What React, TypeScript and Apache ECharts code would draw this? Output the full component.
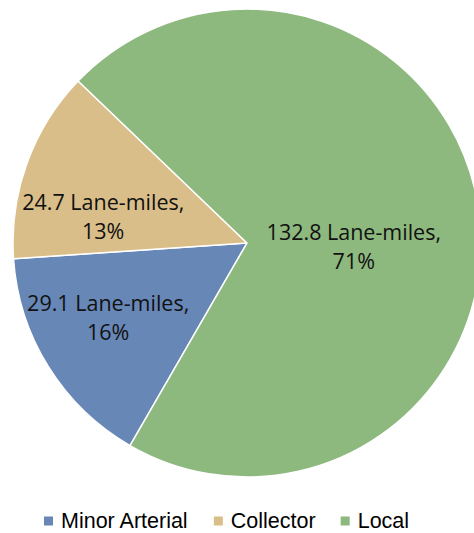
import React, { useEffect, useRef } from "react";
import * as echarts from "echarts";

const categories = ["Minor Arterial", "Collector", "Local"];
const laneMiles = [29.1, 24.7, 132.8];
const colors = ["#6787B7", "#D9BE89", "#8DB87E"];
const labelOffsets = [
  [-37, 11],
  [-31, 14],
  [-12, 20],
];

export default function App() {
  const ref = useRef<HTMLDivElement>(null);
  useEffect(() => {
    document.body.style.margin = "0";
    const chart = echarts.init(ref.current!, null, { renderer: "svg" });
    chart.setOption({
      animation: false,
      backgroundColor: "#ffffff",
      legend: {
        data: categories,
        left: 42,
        top: 510,
        padding: 0,
        icon: "rect",
        itemWidth: 11,
        itemHeight: 11,
        itemGap: 23,
        selectedMode: false,
        textStyle: {
          fontFamily: "'Liberation Sans', Arial, sans-serif",
          fontSize: 21.5,
          lineHeight: 20,
          color: "#000000",
          padding: [0, 0, 0, 2],
        },
      },
      series: [
        {
          type: "pie",
          center: [247, 243],
          radius: 234,
          startAngle: 240,
          clockwise: true,
          avoidLabelOverlap: false,
          emphasis: { disabled: true },
          labelLine: { show: false },
          itemStyle: { borderColor: "#ffffff", borderWidth: 1.5 },
          label: {
            show: true,
            position: "inside",
            fontFamily: "'Open Sans', 'Noto Sans', sans-serif",
            fontSize: 21.5,
            lineHeight: 29,
            color: "#111111",
            align: "center",
            formatter: (p: any) =>
              `${p.value} Lane-miles,\n${Math.round(p.percent)}%`,
          },
          data: categories.map((name, i) => ({
            name,
            value: laneMiles[i],
            itemStyle: { color: colors[i] },
            label: { offset: labelOffsets[i] },
          })),
        },
      ],
    });
    return () => chart.dispose();
  }, []);
  return (
    <div
      ref={ref}
      style={{ position: "absolute", left: 0, top: 0, width: 474, height: 533 }}
    />
  );
}
